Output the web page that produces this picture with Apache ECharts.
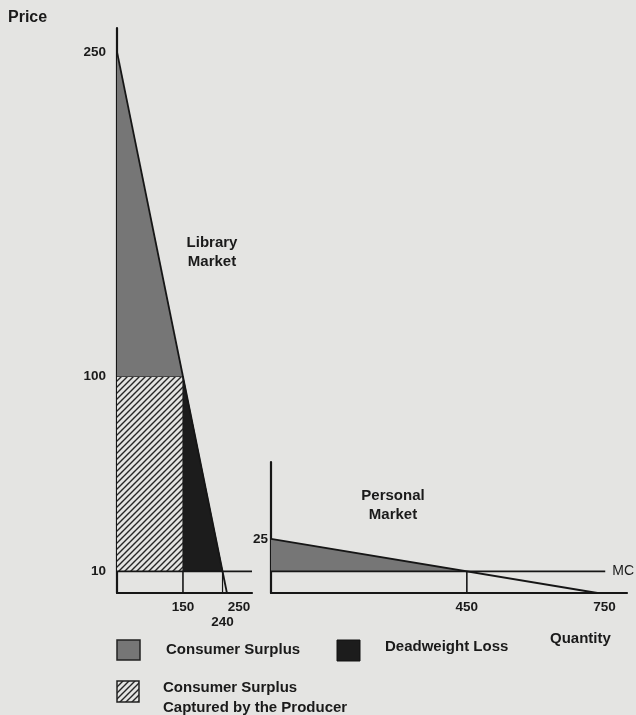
<!DOCTYPE html>
<html><head><meta charset="utf-8">
<script src="https://cdn.jsdelivr.net/npm/echarts@6/dist/echarts.min.js"></script>
<style>html,body{margin:0;padding:0;background:#e4e4e2}#c{width:636px;height:715px}</style>
</head><body><div id="c"></div>
<script>
// ---- data ----
const libPriceTicks = [10, 100, 250];
const libQtyTicks = [150, 250];
const libQtyLowTicks = [240];
const libDemand = [[0, 250], [250, 0]];
const libMC = 10;
const libPrice = 100;
const libQty = 150;
const libEffQty = 240;

const perPriceTicks = [25];
const perQtyTicks = [450, 750];
const perDemand = [[0, 25], [750, 0]];
const perMC = 10;
const perQty = 450;

// axis extents
const libXMax = 307, libYMax = 261;
const perXMax = 818, perYMax = 60.5;
const perMCEnd = 768;

// polygons built from data
const libCS = [[0, libDemand[0][1]], [0, libPrice], [libQty, libPrice]];
const libCaptured = [[0, libMC], [0, libPrice], [libQty, libPrice], [libQty, libMC]];
const libDWL = [[libQty, libMC], [libQty, libPrice], [libEffQty, libMC]];
const perCS = [[0, perDemand[0][1]], [0, perMC], [perQty, perMC]];

const BG = '#e4e4e2', INK = '#161616', GRAY = '#767676', DARK = '#1c1c1c';
const FONT = 'Liberation Sans, Arial, sans-serif';

function hatchCanvas() {
  const s = 6, c = document.createElement('canvas');
  c.width = s; c.height = s;
  const g = c.getContext('2d');
  g.fillStyle = BG; g.fillRect(0, 0, s, s);
  g.strokeStyle = '#262626'; g.lineWidth = 1.4;
  g.beginPath();
  g.moveTo(0, s); g.lineTo(s, 0);
  g.moveTo(-1, 1); g.lineTo(1, -1);
  g.moveTo(s - 1, s + 1); g.lineTo(s + 1, s - 1);
  g.stroke();
  return c;
}
const hatch = { image: hatchCanvas(), repeat: 'repeat' };

function polySeries(pts, fill, xi, stroke) {
  return {
    type: 'custom', xAxisIndex: xi, yAxisIndex: xi, data: [0], silent: true, z: 2,
    renderItem: (p, api) => ({
      type: 'polygon',
      shape: { points: pts.map(q => api.coord(q)) },
      style: { fill: fill, stroke: stroke || null, lineWidth: stroke ? 1 : 0 }
    })
  };
}
function lineSeries(data, xi, w, extra) {
  return Object.assign({
    type: 'line', xAxisIndex: xi, yAxisIndex: xi, data: data, symbol: 'none', silent: true, z: 4,
    lineStyle: { color: INK, width: w || 1.6 }
  }, extra || {});
}

const axisLineStyle = { show: true, onZero: false, lineStyle: { color: INK, width: 2.2 } };
const labelStyle = { color: '#1a1a1a', fontFamily: FONT, fontWeight: 'bold', fontSize: 13.5 };

const chart = echarts.init(document.getElementById('c'), null, { renderer: 'canvas' });
chart.setOption({
  backgroundColor: BG,
  animation: false,
  grid: [
    { left: 117, top: 28, width: 135, height: 565 },
    { left: 271, top: 462, width: 356, height: 131 }
  ],
  xAxis: [
    { type: 'value', gridIndex: 0, min: 0, max: libXMax, splitLine: { show: false }, axisTick: { show: false },
      axisLine: axisLineStyle,
      axisLabel: Object.assign({}, labelStyle, { margin: 7, hideOverlap: false,
        customValues: libQtyTicks,
        formatter: v => v === 250 ? '{r|250}' : String(v),
        rich: { r: Object.assign({}, labelStyle, { padding: [0, 0, 0, 24] }) } }) },
    { type: 'value', gridIndex: 1, min: 0, max: perXMax, splitLine: { show: false }, axisTick: { show: false },
      axisLine: axisLineStyle,
      axisLabel: Object.assign({}, labelStyle, { margin: 7, customValues: perQtyTicks,
        formatter: v => v === 750 ? '{r|750}' : String(v),
        rich: { r: Object.assign({}, labelStyle, { padding: [0, 0, 0, 14] }) } }) },
    { type: 'value', gridIndex: 0, position: 'bottom', min: 0, max: libXMax, splitLine: { show: false }, axisTick: { show: false },
      axisLine: { show: false },
      axisLabel: Object.assign({}, labelStyle, { margin: 22, customValues: libQtyLowTicks }) }
  ],
  yAxis: [
    { type: 'value', gridIndex: 0, min: 0, max: libYMax, splitLine: { show: false }, axisTick: { show: false },
      axisLine: axisLineStyle,
      axisLabel: Object.assign({}, labelStyle, { margin: 11, customValues: libPriceTicks }) },
    { type: 'value', gridIndex: 1, min: 0, max: perYMax, splitLine: { show: false }, axisTick: { show: false },
      axisLine: axisLineStyle,
      axisLabel: Object.assign({}, labelStyle, { margin: 3, customValues: perPriceTicks }) }
  ],
  series: [
    polySeries(libCS, GRAY, 0),
    polySeries(libCaptured, hatch, 0),
    polySeries(libDWL, DARK, 0, DARK),
    polySeries(perCS, GRAY, 1),
    lineSeries([[0, libPrice], [libQty, libPrice]], 0, 1, { lineStyle: { color: '#444', width: 1 } }),
    lineSeries(libDemand, 0, 1.8),
    lineSeries([[0, libMC], [libXMax, libMC]], 0, 1.6),
    lineSeries([[libQty, 0], [libQty, libMC]], 0, 1.6),
    lineSeries([[libEffQty, 0], [libEffQty, libMC]], 0, 1.2),
    lineSeries(perDemand, 1, 1.8),
    lineSeries([[0, perMC], [perMCEnd, perMC]], 1, 1.6, {
      endLabel: { show: true, formatter: 'MC', color: '#1a1a1a', fontFamily: FONT, fontSize: 14, distance: 7 }
    }),
    lineSeries([[perQty, 0], [perQty, perMC]], 1, 1.6)
  ],
  graphic: [
    { type: 'text', left: 8, top: 10, style: { text: 'Price', font: 'bold 16px ' + FONT, fill: '#1a1a1a' } },
    { type: 'text', left: 550, top: 631, style: { text: 'Quantity', font: 'bold 15px ' + FONT, fill: '#1a1a1a' } },
    { type: 'text', x: 212, y: 252, style: { text: 'Library\nMarket', font: 'bold 15px ' + FONT, fill: '#1a1a1a', align: 'center', verticalAlign: 'middle', lineHeight: 19 } },
    { type: 'text', x: 393, y: 505, style: { text: 'Personal\nMarket', font: 'bold 15px ' + FONT, fill: '#1a1a1a', align: 'center', verticalAlign: 'middle', lineHeight: 19 } },
    // legend
    { type: 'rect', shape: { x: 117, y: 640, width: 23, height: 20 }, style: { fill: GRAY, stroke: '#222', lineWidth: 1.5 } },
    { type: 'text', left: 166, top: 642, style: { text: 'Consumer Surplus', font: 'bold 15px ' + FONT, fill: '#1a1a1a' } },
    { type: 'rect', shape: { x: 337, y: 640, width: 23, height: 21 }, style: { fill: DARK, stroke: '#111', lineWidth: 1 } },
    { type: 'text', left: 385, top: 639, style: { text: 'Deadweight Loss', font: 'bold 15px ' + FONT, fill: '#1a1a1a' } },
    { type: 'rect', shape: { x: 117, y: 681, width: 22, height: 21 }, style: { fill: hatch, stroke: '#222', lineWidth: 1.5 } },
    { type: 'text', left: 163, top: 680, style: { text: 'Consumer Surplus', font: 'bold 15px ' + FONT, fill: '#1a1a1a' } },
    { type: 'text', left: 163, top: 700, style: { text: 'Captured by the Producer', font: 'bold 15px ' + FONT, fill: '#1a1a1a' } }
  ]
});
</script></body></html>
